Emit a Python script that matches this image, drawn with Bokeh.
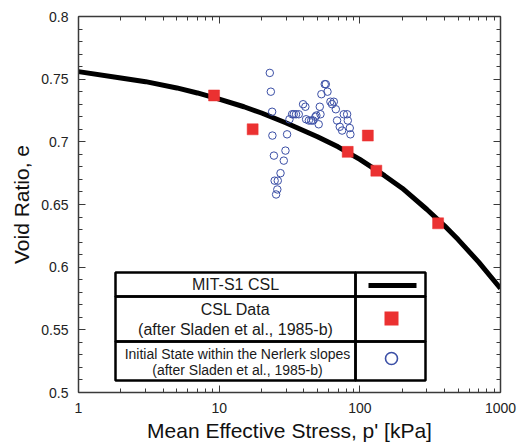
from bokeh.plotting import figure
from bokeh.models import (LogAxis, LinearAxis, FixedTicker, CustomJSTickFormatter,
                          BoxAnnotation, Label)
from bokeh.embed import file_html
from bokeh.resources import INLINE

# ---------------- data ----------------
# MIT-S1 critical state line
csl_p = [1, 2, 3, 5, 7, 10, 15, 20, 30, 50, 70, 100, 150, 200, 300, 400, 500, 700, 1000]
csl_e = [0.756, 0.751, 0.748, 0.743, 0.739, 0.734, 0.728, 0.723, 0.715, 0.704, 0.696,
         0.686, 0.673, 0.663, 0.646, 0.633, 0.622, 0.604, 0.583]

# CSL data (after Sladen et al., 1985-b)
csl_data_p = [9.2, 17.3, 82, 114, 131, 360]
csl_data_e = [0.737, 0.710, 0.692, 0.705, 0.677, 0.635]

# Initial state within the Nerlerk slopes
init_p = [22.9, 23.3, 23.8, 23.9, 24.5, 24.8, 26.1, 25.9, 25.4, 27.3, 28.8, 29.6, 30.4,
          31.6, 33.0, 33.9, 35.2, 36.8, 39.5, 41.0, 41.5, 43.4, 45.1, 46.6, 48.3, 49.1,
          51.0, 51.9, 52.5, 53.3, 56.3, 57.3, 58.9, 61.8, 63.5, 65.3, 67.5, 68.9, 72.0,
          74.8, 76.9, 81.2, 82.1, 84.8, 85.7]
init_e = [0.755, 0.740, 0.724, 0.705, 0.689, 0.669, 0.669, 0.662, 0.658, 0.675, 0.685,
          0.693, 0.706, 0.718, 0.722, 0.722, 0.722, 0.722, 0.730, 0.728, 0.718, 0.717,
          0.717, 0.717, 0.720, 0.721, 0.714, 0.728, 0.722, 0.738, 0.746, 0.746, 0.740,
          0.732, 0.730, 0.732, 0.726, 0.717, 0.712, 0.709, 0.722, 0.722, 0.717, 0.711,
          0.706]

x_ticks = [1, 10, 100, 1000]
y_ticks = [0.5, 0.55, 0.6, 0.65, 0.7, 0.75, 0.8]

x_label = "Mean Effective Stress, p' [kPa]"
y_label = "Void Ratio, e"
leg_line = "MIT-S1 CSL"
leg_sq = ["CSL Data", "(after Sladen et al., 1985-b)"]
leg_circ = ["Initial State within the Nerlerk slopes", "(after Sladen et al., 1985-b)"]

FONT = "Liberation Sans"
RED = "#eb3131"
BLUE = "#3b4fa6"
AX = "#3a3a3a"

x_minor = [k * 10 ** d for d in range(3) for k in range(2, 10)]
y_minor = [round(0.5 + 0.01 * i, 2) for i in range(31)]

p = figure(width=522, height=444, x_axis_type="log", x_range=(1, 1000), y_range=(0.5, 0.8),
           output_backend="svg", toolbar_location=None,
           min_border_left=78, min_border_right=22, min_border_top=16, min_border_bottom=52)
p.xgrid.visible = False
p.ygrid.visible = False
p.outline_line_color = None
p.background_fill_color = "white"
p.border_fill_color = "white"

xt = FixedTicker(ticks=x_ticks, minor_ticks=x_minor)
yt = FixedTicker(ticks=y_ticks, minor_ticks=y_minor)

bottom = p.below[0]
left = p.left[0]
top = LogAxis()
right = LinearAxis()
p.add_layout(top, "above")
p.add_layout(right, "right")

for ax in (bottom, top):
    ax.ticker = xt
for ax in (left, right):
    ax.ticker = yt

bottom.formatter = CustomJSTickFormatter(code="return String(Math.round(tick));")
left.formatter = CustomJSTickFormatter(code="return String(Math.round(tick*100)/100);")

for ax in (bottom, top, left, right):
    ax.axis_line_color = AX
    ax.axis_line_width = 1.5
    ax.major_tick_line_color = AX
    ax.minor_tick_line_color = AX
    ax.major_tick_in = 7
    ax.major_tick_out = 0
    ax.minor_tick_in = 4
    ax.minor_tick_out = 0
    ax.major_label_text_font = FONT
    ax.major_label_text_font_size = "14px"
    ax.major_label_text_color = "#222"
    ax.axis_label_text_font = FONT
    ax.axis_label_text_font_style = "normal"
    ax.axis_label_text_font_size = "21px"
    ax.axis_label_text_color = "#111"

# no labels on the mirrored axes
for ax in (top, right):
    ax.formatter = CustomJSTickFormatter(code="return '';")
    ax.major_label_standoff = 0
    ax.major_label_text_font_size = "2px"

bottom.axis_label = x_label
bottom.major_label_standoff = 10
bottom.axis_label_standoff = 3
left.axis_label = y_label
left.major_label_standoff = 10
left.axis_label_standoff = 5

# ---------------- data marks ----------------
p.line(csl_p, csl_e, line_color="black", line_width=5)
p.scatter(init_p, init_e, marker="circle", size=7.5, fill_color=None,
          line_color=BLUE, line_width=1)
p.scatter(csl_data_p, csl_data_e, marker="square", size=11, fill_color=RED,
          line_color=RED, line_width=0.5)

# ---------------- table legend (screen units, frame origin bottom-left) ----------------
def box(l, r, b, t, **kw):
    p.add_layout(BoxAnnotation(left=l, right=r, bottom=b, top=t,
                               left_units="screen", right_units="screen",
                               bottom_units="screen", top_units="screen", **kw))

cols = [37, 277, 347]
rows = [120, 96, 51, 12]
box(cols[0], cols[2], rows[3], rows[0], fill_color="white", fill_alpha=1.0, line_alpha=0)
for i in range(3):
    for j in range(2):
        box(cols[j], cols[j + 1], rows[i + 1], rows[i], fill_alpha=0,
            line_color="black", line_alpha=1.0, line_width=2.5)

# symbols
box(290, 338, 104.5, 109.5, fill_color="black", fill_alpha=1, line_alpha=0)
box(306, 320, 67, 81, fill_color=RED, fill_alpha=1, line_alpha=0)
box(307, 319, 28, 40, fill_alpha=0, line_color=BLUE, line_alpha=1.0, line_width=1.6,
    border_radius=6)

def lab(x, y, text, size):
    p.add_layout(Label(x=x, y=y, x_units="screen", y_units="screen", text=text,
                       text_align="center", text_baseline="middle", text_font=FONT,
                       text_font_size=size, text_color="#1a1a1a"))

lab(157, 108, leg_line, "16px")
lab(157, 83, leg_sq[0], "16px")
lab(157, 63, leg_sq[1], "16px")
lab(159, 39, leg_circ[0], "14px")
lab(159, 23, leg_circ[1], "14px")

open("out.html", "w").write(file_html(p, INLINE))
